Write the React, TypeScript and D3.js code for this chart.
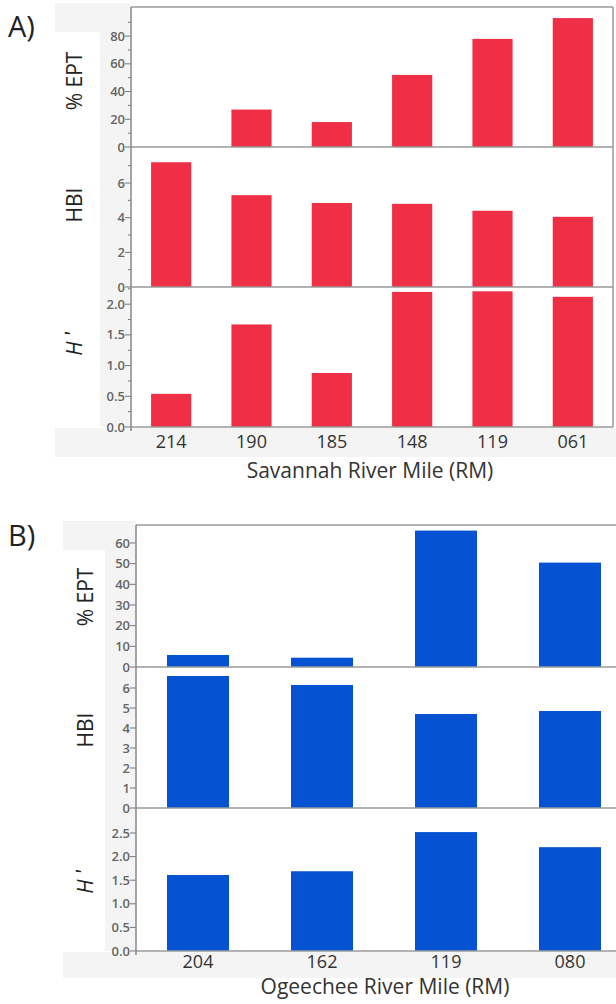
import React from 'react'
import * as d3 from 'd3'

// Savannah River (A)
const savCats = ['214', '190', '185', '148', '119', '061']
const savEPT = [0, 27, 18, 52, 78, 93]
const savHBI = [7.2, 5.3, 4.85, 4.8, 4.4, 4.05]
const savH = [0.54, 1.67, 0.88, 2.2, 2.21, 2.12]

// Ogeechee River (B)
const ogeCats = ['204', '162', '119', '080']
const ogeEPT = [5.8, 4.5, 66, 50.5]
const ogeHBI = [6.6, 6.15, 4.7, 4.85]
const ogeH = [1.61, 1.69, 2.52, 2.2]

const savEPTTicks = [0, 20, 40, 60, 80]
const savHBITicks = [0, 2, 4, 6]
const savHTicks = [0, 0.5, 1, 1.5, 2]
const ogeEPTTicks = [0, 10, 20, 30, 40, 50, 60]
const ogeHBITicks = [0, 1, 2, 3, 4, 5, 6]
const ogeHTicks = [0, 0.5, 1, 1.5, 2, 2.5]

const RED = '#ee2f45'
const BLUE = '#0553d3'
const FONT = '"Open Sans", "DejaVu Sans", sans-serif'

type Sub = {
  values: number[]
  max: number
  ticks: number[]
  minor: number[]
  fmt: (v: number) => string
  label: React.ReactNode
  labelY: number
  y0: number
  y1: number
}

function Panel(props: {
  cats: string[]
  subs: Sub[]
  left: number
  right: number
  frameRight: number
  color: string
  letter: string
  letterY: number
  title: string
  titleX: number
  tickDy: number
  titleDy: number
  bandX: number
  bandY: number
  labelX: number
  clipX: number
  id: string
}) {
  const { cats, subs, left, right, frameRight, color, letter, letterY, title, titleX, tickDy, titleDy, bandX, bandY, labelX, clipX, id } = props
  const x = d3.scaleBand().domain(cats).range([left, right]).paddingInner(0.5).paddingOuter(0.25)
  const top = subs[0].y0
  const bottom = subs[subs.length - 1].y1
  return (
    <g>
      <defs>
        <clipPath id={id}>
          <rect x={clipX} y={0} width={616} height={1004} />
        </clipPath>
      </defs>
      {/* gray backdrop */}
      <rect x={bandX} y={top - 4} width={left - bandX} height={29} fill="#f4f4f4" />
      <rect x={left - 31} y={top - 4} width={31} height={bottom - top + 4} fill="#f4f4f4" />
      <rect x={bandX} y={bottom + 1} width={616 - bandX} height={bandY} fill="#f4f4f4" />
      <rect x={left} y={top} width={frameRight - left} height={bottom - top} fill="#fff" />
      <text x={8} y={letterY} fontFamily={FONT} fontSize={29} fill="#222">{letter}</text>
      {subs.map((s, i) => {
        const y = d3.scaleLinear().domain([0, s.max]).range([s.y1, s.y0])
        return (
          <g key={i}>
            {s.values.map((v, j) => (
              <rect key={j} x={x(cats[j])} width={x.bandwidth()} y={y(v)} height={y(0) - y(v)} fill={color} />
            ))}
            <line x1={left} x2={frameRight} y1={s.y1} y2={s.y1} stroke="#999" strokeWidth={1.5} />
            {s.minor.map((t, j) => (
              <line key={'m' + j} x1={left - 3} x2={left} y1={y(t)} y2={y(t)} stroke="#777" />
            ))}
            <g clipPath={`url(#${id})`}>
              {s.ticks.map((t, j) => (
                <g key={j}>
                  <line x1={left - 6} x2={left} y1={y(t)} y2={y(t)} stroke="#777" />
                  <text x={left - 6} y={y(t)} dy="0.35em" textAnchor="end" fontFamily={FONT} fontSize={13} fontWeight={600} fill="#666">
                    {s.fmt(t)}
                  </text>
                </g>
              ))}
            </g>
            <text
              transform={`translate(${labelX},${s.labelY}) rotate(-90)`}
              textAnchor="middle"
              dy="0.35em"
              fontFamily={FONT}
              fontSize={21}
              fill="#222"
            >
              {s.label}
            </text>
          </g>
        )
      })}
      <line x1={left} x2={frameRight} y1={top} y2={top} stroke="#999" strokeWidth={1.5} />
      <line x1={left} x2={left} y1={top} y2={bottom + 4} stroke="#888" strokeWidth={1.5} />
      {frameRight < 616 && <line x1={frameRight} x2={frameRight} y1={top} y2={bottom} stroke="#999" strokeWidth={1.5} />}
      {cats.map((c) => (
        <text key={c} x={(x(c) as number) + x.bandwidth() / 2} y={bottom + tickDy} dy="0.35em" textAnchor="middle" fontFamily={FONT} fontSize={18} fill="#333">
          {c}
        </text>
      ))}
      <text x={titleX} y={bottom + titleDy} dy="0.35em" textAnchor="middle" fontFamily={FONT} fontSize={21} fill="#333">
        {title}
      </text>
    </g>
  )
}

const hLabel = (
  <>
    <tspan fontStyle="italic">H</tspan>
    <tspan> ʹ</tspan>
  </>
)

export default function App() {
  const f0 = (v: number) => d3.format('d')(v)
  const f1 = (v: number) => d3.format('.1f')(v)
  const savSubs: Sub[] = [
    { values: savEPT, max: 101, ticks: savEPTTicks, minor: d3.range(10, 100, 20), fmt: f0, label: '% EPT', labelY: 81, y0: 7, y1: 147 },
    { values: savHBI, max: 8.08, ticks: savHBITicks, minor: d3.range(1, 8, 2), fmt: f0, label: 'HBI', labelY: 205, y0: 147, y1: 287 },
    { values: savH, max: 2.28, ticks: savHTicks, minor: d3.range(0.25, 2.3, 0.5), fmt: f1, label: hLabel, labelY: 343, y0: 287, y1: 427 },
  ]
  const ogeSubs: Sub[] = [
    { values: ogeEPT, max: 68.7, ticks: ogeEPTTicks, minor: [], fmt: f0, label: '% EPT', labelY: 597, y0: 525, y1: 667 },
    { values: ogeHBI, max: 7.05, ticks: ogeHBITicks, minor: [], fmt: f0, label: 'HBI', labelY: 730, y0: 667, y1: 808 },
    { values: ogeH, max: 3.03, ticks: ogeHTicks, minor: [], fmt: f1, label: hLabel, labelY: 881, y0: 808, y1: 951 },
  ]
  return (
    <svg width={616} height={1004} style={{ position: 'absolute', left: 0, top: 0, background: '#fff' }}>
      <Panel
        id="clipA"
        cats={savCats}
        subs={savSubs}
        left={131}
        right={613}
        frameRight={613}
        color={RED}
        letter="A)"
        letterY={37}
        title="Savannah River Mile (RM)"
        titleX={370}
        tickDy={15}
        titleDy={44}
        bandX={55}
        bandY={29}
        labelX={75}
        clipX={0}
      />
      <Panel
        id="clipB"
        cats={ogeCats}
        subs={ogeSubs}
        left={136}
        right={632}
        frameRight={616}
        color={BLUE}
        letter="B)"
        letterY={546}
        title="Ogeechee River Mile (RM)"
        titleX={385}
        tickDy={11}
        titleDy={36}
        bandX={63}
        bandY={26}
        labelX={86}
        clipX={110}
      />
    </svg>
  )
}
